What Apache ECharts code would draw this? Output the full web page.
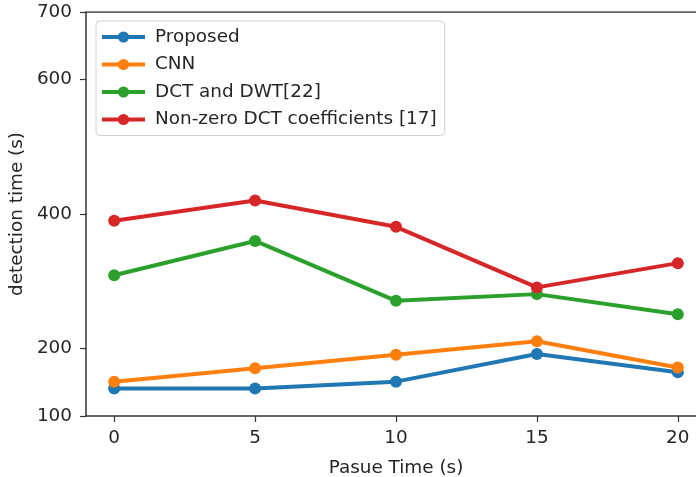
<!DOCTYPE html>
<html>
<head>
<meta charset="utf-8">
<script src="https://cdn.jsdelivr.net/npm/echarts@6/dist/echarts.min.js"></script>
<style>html,body{margin:0;padding:0;background:#fff;}#c{width:696px;height:477px;}</style>
</head>
<body>
<div id="c"></div>
<script>
var pauseTimes = [0, 5, 10, 15, 20];
var seriesNames = ['Proposed', 'CNN', 'DCT and DWT[22]', 'Non-zero DCT coefficients [17]'];
var proposed = [141, 141, 151, 192, 165];
var cnn = [151, 171, 191, 211, 172];
var dctDwt = [309, 360, 271, 281, 251];
var nonZero = [390, 420, 381, 291, 327];
var xTicks = [0, 5, 10, 15, 20];
var yTicks = [100, 200, 400, 600, 700];
var colors = ['#1f77b4', '#ff7f0e', '#2ca02c', '#d62728'];
var allValues = [proposed, cnn, dctDwt, nonZero];

var font = 'DejaVu Sans';
var textColor = '#262626';
var chart = echarts.init(document.getElementById('c'));
var series = seriesNames.map(function (n, i) {
  return {
    name: n,
    type: 'line',
    data: pauseTimes.map(function (x, j) { return [x, allValues[i][j]]; }),
    symbol: 'circle',
    symbolSize: 12,
    lineStyle: { width: 4, color: colors[i] },
    itemStyle: { color: colors[i] },
    z: 2 + i
  };
});
chart.setOption({
  animation: false,
  backgroundColor: '#fff',
  grid: { left: 86, right: -10, top: 12, bottom: 61, outerBoundsMode: 'none' },
  legend: {
    orient: 'vertical',
    left: 96, top: 21,
    data: seriesNames,
    itemWidth: 43, itemHeight: 14, itemGap: 9.5,
    padding: [7, 8, 7, 4],
    borderColor: '#d0d0d0', borderWidth: 1, borderRadius: 4,
    backgroundColor: 'rgba(255,255,255,0.85)',
    lineStyle: { width: 4 },
    textStyle: { fontFamily: font, fontSize: 18.4, color: textColor, lineHeight: 18, padding: [0, 0, 0, 5] }
  },
  xAxis: {
    type: 'value', min: -1, max: 21,
    name: 'Pasue Time (s)', nameLocation: 'middle', nameGap: 43,
    nameTextStyle: { fontFamily: font, fontSize: 18.4, color: textColor },
    axisLine: { show: true, onZero: false, lineStyle: { color: '#333', width: 1.5 } },
    axisTick: { show: true, customValues: xTicks, length: 6, lineStyle: { color: '#333', width: 1.2 } },
    axisLabel: { customValues: xTicks, fontFamily: font, fontSize: 18.4, color: textColor, margin: 13 },
    splitLine: { show: false }
  },
  yAxis: {
    type: 'value', min: 100, max: 700,
    name: 'detection time (s)', nameLocation: 'middle', nameGap: 59,
    nameTextStyle: { fontFamily: font, fontSize: 18.4, color: textColor },
    axisLine: { show: true, onZero: false, lineStyle: { color: '#333', width: 1.5 } },
    axisTick: { show: true, customValues: yTicks, length: 6, lineStyle: { color: '#333', width: 1.2 } },
    axisLabel: { customValues: yTicks, fontFamily: font, fontSize: 18.4, color: textColor, margin: 14 },
    splitLine: { show: false }
  },
  series: series.concat([{
    type: 'line', data: [[-1, 700], [21, 700]], symbol: 'none', silent: true,
    lineStyle: { color: '#333', width: 1.5 }, z: 1, legendHoverLink: false
  }])
});
</script>
</body>
</html>
